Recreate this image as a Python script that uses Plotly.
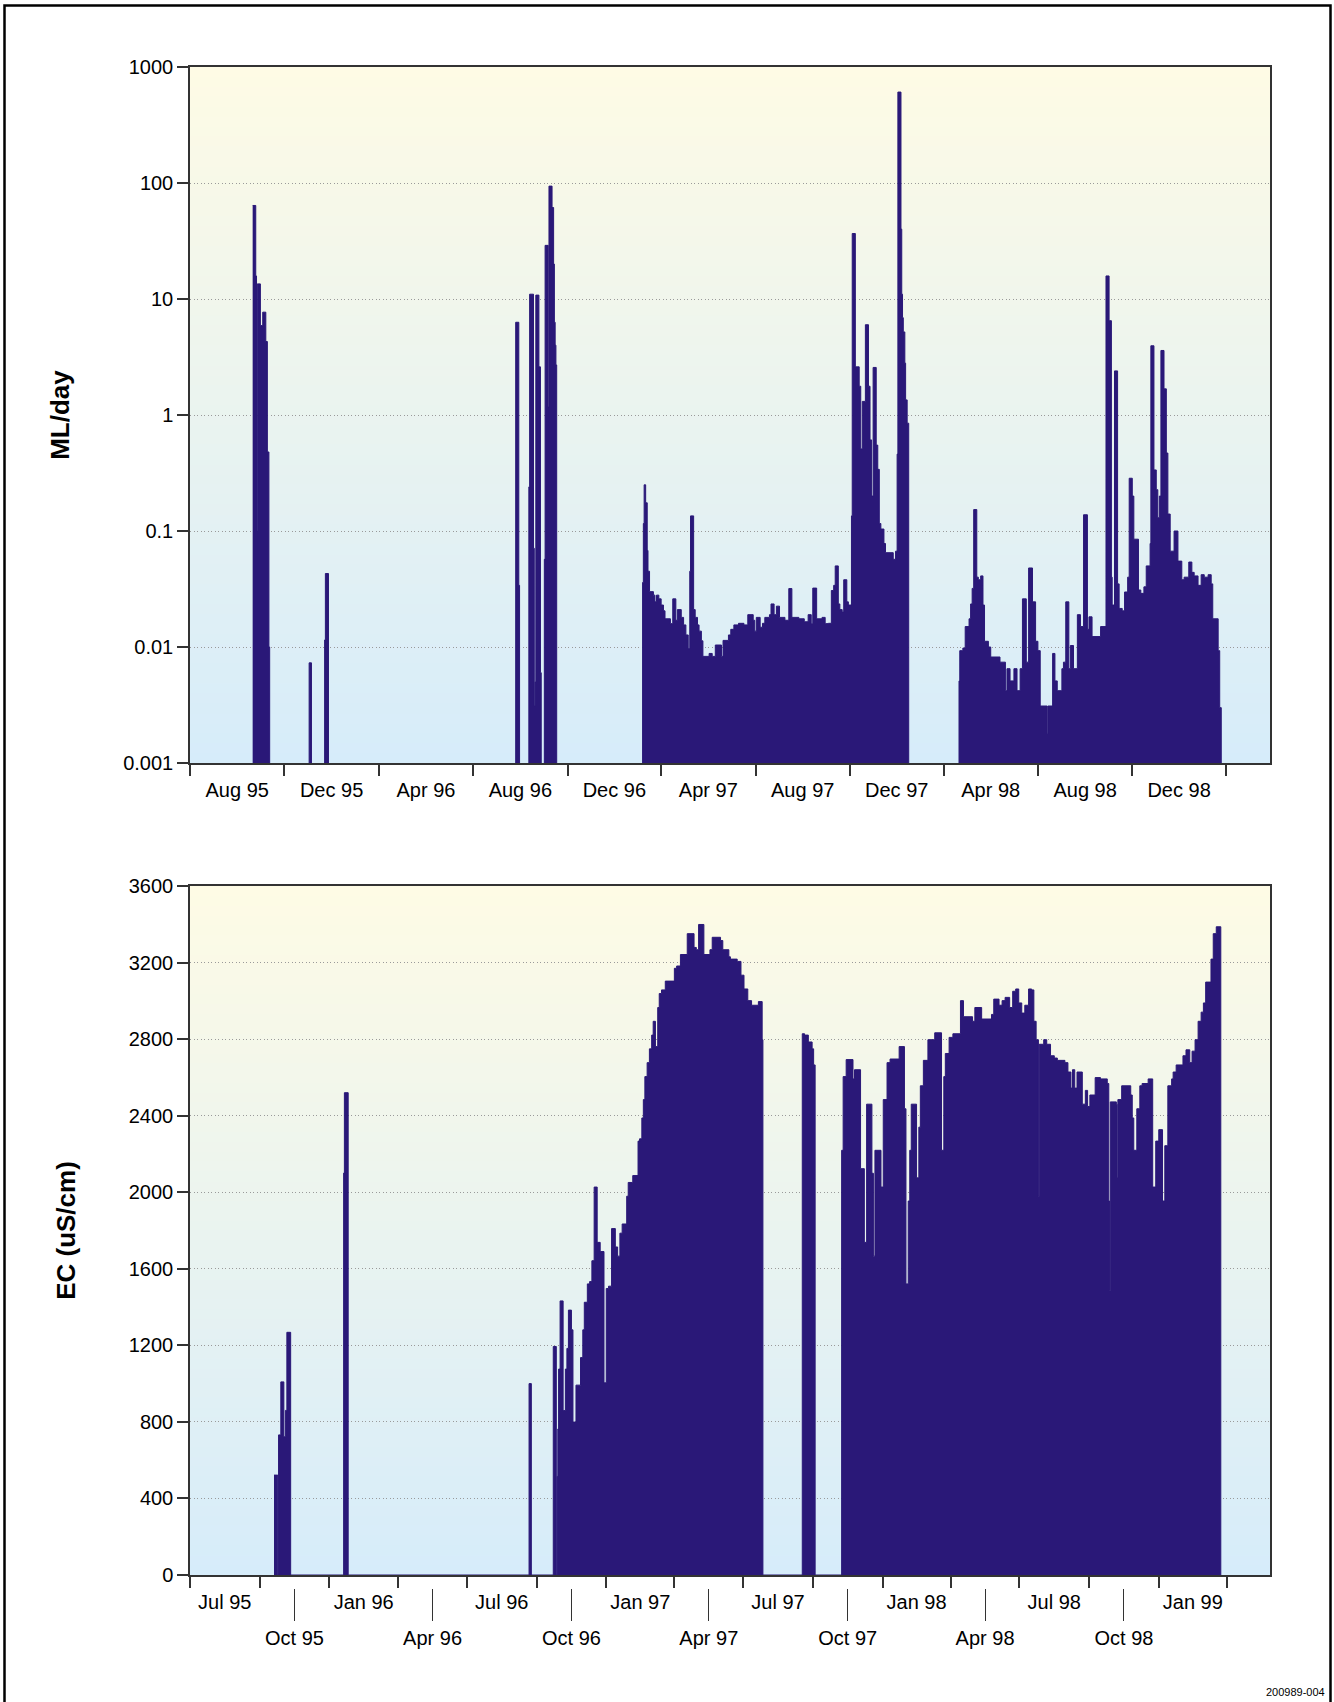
import pandas as pd
import plotly.graph_objects as go

# ---------------- data ----------------
FLOW_START = "1995-08-01"   # day 0 for flow_day
EC_START = "1995-07-01"     # day 0 for ec_day

# daily flow (ML/day) as step changes: value holds until next day listed; 0 = no flow
flow_day = [81, 85, 86, 87, 91, 94, 98, 100, 102, 103,
            154, 157, 174, 175, 179,
            421, 425, 426, 438, 439, 444, 445, 446, 447, 451, 453, 454,
            458, 459, 463, 464, 468, 470, 471, 472, 473, 474,
            585, 586, 587, 589, 591, 592, 594, 599, 601, 603, 606, 609, 612, 614, 621, 624,
            628, 630, 635, 638, 641, 644, 646, 647, 651, 653, 656, 658, 661, 663, 671, 675,
            679, 687, 689, 696, 699, 703, 709, 716, 721, 728, 730, 732, 737, 740, 743, 749,
            751, 755, 758, 762, 769, 774, 778, 787, 794, 799, 803, 805, 810, 817, 821, 825,
            829, 832, 834, 838, 840, 843, 845, 849, 851, 855, 856, 860, 865, 867, 869, 873,
            877, 879, 881, 883, 887, 889, 891, 893, 897, 899, 909, 912, 914, 915, 919, 920,
            921, 922, 924, 925, 927, 929,
            994, 995, 999, 1002, 1007, 1009, 1011, 1013, 1017, 1019, 1022, 1025, 1027, 1032,
            1035, 1047, 1054, 1056, 1060, 1065, 1069, 1073, 1076, 1081, 1084, 1089, 1093,
            1096, 1099, 1108, 1109, 1115, 1118, 1121, 1127, 1129, 1132, 1136, 1138, 1142,
            1147, 1151, 1155, 1160, 1162, 1166, 1177, 1184, 1188, 1191, 1192, 1195, 1199,
            1201, 1205, 1208, 1212, 1214, 1218, 1220, 1226, 1229, 1233, 1236, 1241, 1242,
            1246, 1249, 1251, 1253, 1255, 1259, 1262, 1264, 1267, 1272, 1277, 1282, 1285,
            1291, 1295, 1298, 1303, 1307, 1311, 1316, 1320, 1322, 1329, 1331, 1333]
flow_val = [64, 15.8, 0.1, 13.5, 5.9, 7.7, 4.3, 0.48, 0.01, 0,
            0.0073, 0, 0.0115, 0.043, 0,
            6.3, 0.034, 0, 0.24, 11, 0.071, 0.0031, 0.005, 10.8, 2.6, 0.006, 0,
            0.057, 29, 1.17, 94, 61.5, 20, 6.3, 4.0, 2.7, 0,
            0.036, 0.116, 0.25, 0.175, 0.068, 0.045, 0.030, 0.028, 0.0245, 0.028, 0.026, 0.023, 0.0205, 0.0175, 0.0159, 0.026,
            0.017, 0.021, 0.018, 0.0155, 0.0127, 0.0097, 0.045, 0.135, 0.021, 0.018, 0.0155, 0.0137, 0.0113, 0.0083, 0.0088, 0.0083,
            0.0104, 0.0083, 0.0114, 0.0127, 0.0142, 0.0155, 0.016, 0.0155, 0.019, 0.017, 0.0137, 0.018, 0.0148, 0.016, 0.018, 0.019,
            0.0235, 0.019, 0.0225, 0.018, 0.017, 0.0319, 0.018, 0.0175, 0.0165, 0.019, 0.0159, 0.0322, 0.0175, 0.018, 0.0159, 0.016,
            0.0307, 0.034, 0.05, 0.0235, 0.021, 0.020, 0.038, 0.0245, 0.023, 0.135, 36.7, 2.6, 1.77, 0.51, 1.31, 6.0,
            1.77, 0.61, 0.2, 2.57, 0.55, 0.34, 0.116, 0.104, 0.078, 0.065, 0.057, 0.067, 0.46, 608, 40, 11,
            6.9, 5.2, 2.8, 1.35, 0.85, 0,
            0.0051, 0.0093, 0.0098, 0.015, 0.0175, 0.0235, 0.032, 0.153, 0.040, 0.038, 0.041, 0.023, 0.0112, 0.010,
            0.0082, 0.0074, 0.0042, 0.0065, 0.0051, 0.0065, 0.0042, 0.0065, 0.026, 0.0074, 0.048, 0.0245, 0.0112,
            0.0093, 0.0031, 0.0018, 0.0031, 0.0088, 0.0051, 0.0042, 0.0065, 0.0074, 0.0245, 0.0065, 0.0103, 0.0065,
            0.019, 0.015, 0.138, 0.0142, 0.0182, 0.0123, 0.015, 15.8, 6.5, 0.04, 0.023, 2.4, 0.035,
            0.0215, 0.0205, 0.0298, 0.04, 0.285, 0.2, 0.085, 0.031, 0.029, 0.033, 0.05, 0.078, 3.95,
            0.336, 0.227, 0.13, 0.2, 3.6, 1.68, 0.47, 0.14, 0.067, 0.10, 0.055, 0.038, 0.04,
            0.054, 0.044, 0.041, 0.034, 0.042, 0.040, 0.042, 0.035, 0.0175, 0.0093, 0.003, 0]

# EC (uS/cm) as step changes; 0 = no record
ec_day = [111, 116, 117, 120, 124, 126, 128, 133,
          203, 204, 209,
          448, 451,
          480, 484, 485, 486, 487, 489, 493, 496, 498, 500, 504, 506, 510, 516, 519, 521, 525, 528,
          531, 534, 538, 542, 547, 550, 553, 557, 562, 565, 568, 571, 577, 579, 585, 592, 594, 597,
          599, 601, 604, 607, 610, 612, 615, 618, 620, 623, 628, 640, 643, 648, 657, 666, 669, 672,
          679, 687, 690, 701, 704, 712, 714, 723, 728, 732, 737, 742, 751, 756, 757,
          809, 812, 817, 822, 824, 826,
          861, 863, 867, 876, 878, 886, 891, 894, 901, 903, 905, 913, 916, 921, 925, 937, 944, 946,
          949, 951, 953, 960, 963, 965, 969, 975, 984, 993, 996, 998, 1003, 1008, 1018, 1022, 1034,
          1037, 1046, 1059, 1062, 1069, 1073, 1077, 1083, 1087, 1091, 1095, 1099, 1103, 1108, 1112,
          1115, 1118, 1121, 1122, 1128, 1132, 1137, 1142, 1146, 1156, 1160, 1164, 1166, 1169, 1172,
          1179, 1183, 1186, 1189, 1196, 1203, 1212, 1214, 1215, 1216, 1224, 1225, 1226, 1231, 1243,
          1245, 1247, 1251, 1255, 1258, 1266, 1272, 1276, 1280, 1285, 1288, 1292, 1297, 1299, 1303,
          1312, 1316, 1321, 1324, 1328, 1332, 1336, 1339, 1342, 1349, 1352, 1356, 1362]
ec_val = [522, 0, 732, 1009, 722, 860, 1268, 0,
          2100, 2520, 0,
          1000, 0,
          1194, 0, 515, 763, 1076, 1432, 859, 1076, 1184, 1384, 1281, 799, 992, 1136, 1281, 1425, 1521, 1533,
          1642, 2027, 1738, 1690, 1004, 1497, 1509, 1810, 1714, 1666, 1786, 1834, 1979, 2051, 2087, 2267, 2279, 2388,
          2484, 2604, 2677, 2749, 2821, 2893, 2761, 2965, 3038, 3057, 3103, 3170, 3182, 3242, 3351, 3279, 3267, 3399,
          3242, 3267, 3332, 3315, 3267, 3230, 3218, 3206, 3134, 3062, 3001, 2977, 2996, 2797, 0,
          2828, 2821, 2785, 2749, 2665, 0,
          2219, 2604, 2693, 2592, 2640, 2123, 1738, 2460, 2099, 1666, 2219, 2027, 2484, 2677, 2696, 2761, 2436, 1521,
          1954, 2219, 2460, 2075, 2340, 2556, 2689, 2797, 2833, 2219, 2604, 2725, 2809, 2828, 3001, 2917, 2893,
          2965, 2905, 2929, 3009, 2977, 3001, 3018, 2965, 3050, 3062, 2989, 2936, 2977, 3062, 3057,
          2893, 2797, 1979, 2773, 2797, 2773, 2713, 2701, 2689, 2677, 2628, 2544, 2640, 2544, 2628,
          2460, 2532, 2448, 2508, 2599, 2592, 2568, 1954, 1485, 2472, 2460, 2075, 2484, 2556, 2508,
          2388, 2219, 2436, 2556, 2568, 2592, 2027, 2267, 2327, 1954, 2243, 2556, 2592, 2628, 2665,
          2713, 2744, 2677, 2737, 2797, 2893, 2941, 2989, 3098, 3218, 3351, 3387, 0]

top_bounds = ["1995-08-01", "1995-12-01", "1996-04-01", "1996-08-01", "1996-12-01", "1997-04-01",
              "1997-08-01", "1997-12-01", "1998-04-01", "1998-08-01", "1998-12-01", "1999-04-01"]
top_labels = ["Aug 95", "Dec 95", "Apr 96", "Aug 96", "Dec 96", "Apr 97",
              "Aug 97", "Dec 97", "Apr 98", "Aug 98", "Dec 98"]
ec_bounds = ["1995-07-01", "1995-10-01", "1996-01-01", "1996-04-01", "1996-07-01", "1996-10-01",
             "1997-01-01", "1997-04-01", "1997-07-01", "1997-10-01", "1998-01-01", "1998-04-01",
             "1998-07-01", "1998-10-01", "1999-01-01", "1999-04-01"]
ec_labels = ["Jul 95", "Oct 95", "Jan 96", "Apr 96", "Jul 96", "Oct 96", "Jan 97", "Apr 97",
             "Jul 97", "Oct 97", "Jan 98", "Apr 98", "Jul 98", "Oct 98", "Jan 99"]
flow_ticks = [0.001, 0.01, 0.1, 1, 10, 100, 1000]
flow_tick_text = ["0.001", "0.01", "0.1", "1", "10", "100", "1000"]
ec_ticks = [0, 400, 800, 1200, 1600, 2000, 2400, 2800, 3200, 3600]

# ---------------- build ----------------
BAR = "#2A1878"
AX = "#333333"
FONT = "Liberation Sans, Arial, Helvetica, sans-serif"
GRID_DASH = "1px,2.5px"

flow_x = pd.Timestamp(FLOW_START) + pd.to_timedelta(flow_day, unit="D")
flow_y = [v if v > 0 else 1e-9 for v in flow_val]
ec_x = pd.Timestamp(EC_START) + pd.to_timedelta(ec_day, unit="D")

tb = pd.to_datetime(top_bounds)
top_mid = tb[:-1] + (tb[1:] - tb[:-1]) / 2
eb = pd.to_datetime(ec_bounds)
ec_mid = eb[:-1] + (eb[1:] - eb[:-1]) / 2
row1_vals = [ec_mid[i] for i in range(len(ec_labels)) if i % 2 == 0]
row1_text = [ec_labels[i] for i in range(len(ec_labels)) if i % 2 == 0]
row2_vals = [ec_mid[i] for i in range(len(ec_labels)) if i % 2 == 1]
row2_text = [ec_labels[i] for i in range(len(ec_labels)) if i % 2 == 1]

fig = go.Figure()
fig.add_trace(go.Scatter(x=flow_x, y=flow_y, mode="lines", line=dict(color=BAR, width=1, shape="hv"),
                         fill="tozeroy", fillcolor=BAR, xaxis="x", yaxis="y",
                         showlegend=False, hoverinfo="skip"))
fig.add_trace(go.Scatter(x=ec_x, y=ec_val, mode="lines", line=dict(color=BAR, width=1, shape="hv"),
                         fill="tozeroy", fillcolor=BAR, xaxis="x2", yaxis="y2",
                         showlegend=False, hoverinfo="skip"))
fig.add_trace(go.Scatter(x=[], y=[], xaxis="x3", yaxis="y2", showlegend=False, hoverinfo="skip"))

W, H = 1334, 1702
ML, MR, MT, MB = 190, 64, 67, 2
PH = H - MT - MB


def py(pix):  # pixel row -> paper y
    return (H - MB - pix) / PH


def px(pix):  # pixel column -> paper x
    return (pix - ML) / (W - ML - MR)


top_dom = [py(763), 1.0]
bot_dom = [py(1575), py(886)]

tick_font = dict(family=FONT, size=20, color="black")
xcommon = dict(type="date", showgrid=False, showline=True, linecolor=AX, linewidth=1.5, mirror=True,
               tickfont=tick_font, zeroline=False)

fig.update_layout(
    width=W, height=H, template="none",
    margin=dict(l=ML, r=MR, t=MT, b=MB, autoexpand=False),
    paper_bgcolor="white", plot_bgcolor="rgba(0,0,0,0)",
    font=dict(family=FONT, color="black"),
    xaxis=dict(**xcommon, anchor="y", domain=[0, 1], range=["1995-08-01", "1999-05-28"],
               tickmode="array", tickvals=list(top_mid), ticktext=top_labels,
               ticks="outside", ticklen=8, tickcolor="rgba(0,0,0,0)",
               minor=dict(tickmode="array", tickvals=list(tb), ticks="outside", ticklen=11,
                          tickwidth=1.5, tickcolor=AX, showgrid=False)),
    yaxis=dict(type="log", range=[-3, 3], domain=top_dom, anchor="x",
               tickmode="array", tickvals=flow_ticks, ticktext=flow_tick_text,
               ticks="outside", ticklen=11, tickwidth=1.5, tickcolor=AX, tickfont=tick_font,
               showline=True, linecolor=AX, linewidth=1.5, mirror=True,
               showgrid=True, gridcolor="#9a9a9a", gridwidth=1, griddash=GRID_DASH, zeroline=False,
               title=dict(text="<b>ML/day</b>", font=dict(family=FONT, size=26, color="black"), standoff=46)),
    xaxis2=dict(**xcommon, anchor="y2", domain=[0, 1], range=["1995-07-01", "1999-05-28"],
                tickmode="array", tickvals=row1_vals, ticktext=row1_text,
                ticks="outside", ticklen=8, tickcolor="rgba(0,0,0,0)",
                minor=dict(tickmode="array", tickvals=list(eb), ticks="outside", ticklen=11,
                           tickwidth=1.5, tickcolor=AX, showgrid=False)),
    xaxis3=dict(type="date", overlaying="x2", anchor="free", position=py(1588),
                range=["1995-07-01", "1999-05-28"], showgrid=False, showline=False, zeroline=False,
                tickmode="array", tickvals=row2_vals, ticktext=row2_text,
                ticks="outside", ticklen=32, tickwidth=1.3, tickcolor=AX, tickfont=tick_font),
    yaxis2=dict(range=[0, 3600], domain=bot_dom, anchor="x2",
                tickmode="array", tickvals=ec_ticks,
                ticks="outside", ticklen=11, tickwidth=1.5, tickcolor=AX, tickfont=tick_font,
                showline=True, linecolor=AX, linewidth=1.5, mirror=True,
                showgrid=True, gridcolor="#9a9a9a", gridwidth=1, griddash=GRID_DASH, zeroline=False,
                title=dict(text="<b>EC (uS/cm)</b>", font=dict(family=FONT, size=26, color="black"), standoff=46)),
)

# background gradient (cream at top to pale blue at bottom), drawn under the grid
top_rgb = (254, 251, 229)
bot_rgb = (214, 236, 250)
N = 70
shapes = []
for xr, yr in (("x domain", "y domain"), ("x2 domain", "y2 domain")):
    for i in range(N):
        t = (i + 0.5) / N
        c = tuple(round(bot_rgb[k] + (top_rgb[k] - bot_rgb[k]) * t) for k in range(3))
        shapes.append(dict(type="rect", xref=xr, yref=yr, x0=0, x1=1, y0=i / N, y1=(i + 1) / N + 0.002,
                           fillcolor="rgb(%d,%d,%d)" % c, line=dict(width=0), layer="below"))
# outer frame
shapes.append(dict(type="rect", xref="paper", yref="paper", x0=px(4.5), x1=px(1330.5),
                   y0=py(1715), y1=py(5.5), line=dict(color="black", width=2.5),
                   fillcolor="rgba(0,0,0,0)", layer="above"))
fig.update_layout(shapes=shapes)

fig.add_annotation(text="200989-004", xref="paper", yref="paper", x=px(1327), y=py(1692),
                   xanchor="right", yanchor="middle", showarrow=False,
                   font=dict(family=FONT, size=11, color="black"))

fig.write_html("out.html")
